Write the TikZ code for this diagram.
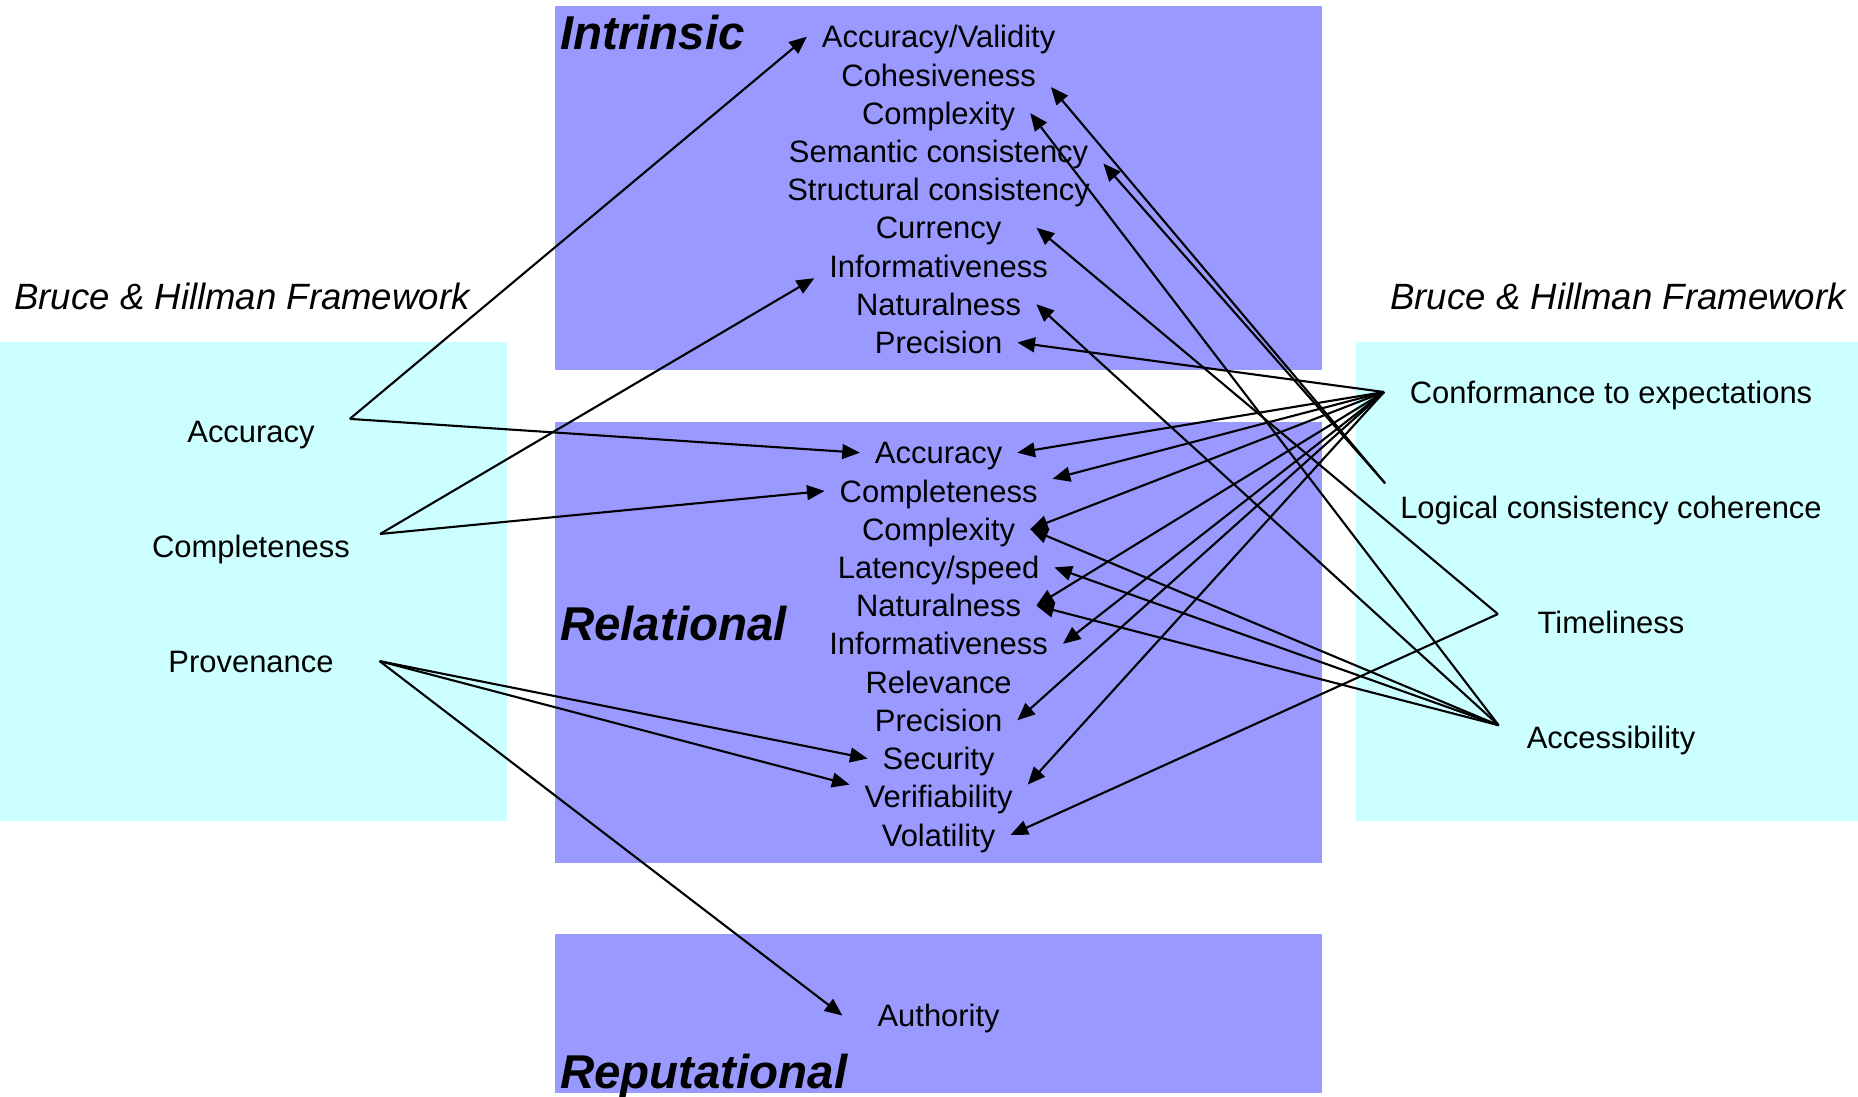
\documentclass[tikz,border=0pt]{standalone}
\usepackage{fontspec}
\setmainfont{Liberation Sans}
\usepackage{tikz}
\usetikzlibrary{arrows.meta}
\definecolor{dqblue}{RGB}{153,153,255}
\definecolor{bhcyan}{RGB}{204,255,255}
\tikzstyle{quality}   = [inner xsep=4pt,inner ysep=0pt,text height=6.3pt,text depth=0pt,font=\fontsize{8.8}{10.5}\selectfont]
\tikzstyle{category}  = [anchor=west,inner sep=0pt,text height=9.7pt,text depth=0pt,font=\fontsize{13.5}{16}\selectfont\bfseries\itshape]
\tikzstyle{framework} = [inner sep=0pt,text height=7.5pt,text depth=0pt,font=\fontsize{10.4}{12.5}\selectfont\itshape]

\begin{document}
\begin{tikzpicture}[x=0.01cm,y=-0.01cm,->,>={Triangle[length=5pt,width=4.2pt]},semithick,node distance=0.382cm]
\useasboundingbox (0,0) rectangle (1858,1096);

% panels
\fill[dqblue] (555,6)    rectangle (1322,370);
\fill[dqblue] (555,422)  rectangle (1322,863);
\fill[dqblue] (555,934)  rectangle (1322,1093);
\fill[bhcyan] (0,342)    rectangle (507,821);
\fill[bhcyan] (1356,342) rectangle (1858,821);

\node[category]  (tIntr) at (559,32)   {Intrinsic};
\node[category]  (tRel)  at (559,623)  {Relational};
\node[category]  (tRep)  at (559,1071) {Reputational};
\node[framework] (fwL)   at (242,296)  {Bruce \& Hillman Framework};
\node[framework] (fwR)   at (1618,296) {Bruce \& Hillman Framework};

% intrinsic
\node[quality] (iAcc)  at (938.6,36.7)  {Accuracy/Validity};
\node[quality] (iCoh)  [below of=iAcc]  {Cohesiveness};
\node[quality] (iCplx) [below of=iCoh]  {Complexity};
\node[quality] (iSem)  [below of=iCplx] {Semantic consistency};
\node[quality] (iStr)  [below of=iSem]  {Structural consistency};
\node[quality] (iCur)  [below of=iStr]  {Currency};
\node[quality] (iInf)  [below of=iCur]  {Informativeness};
\node[quality] (iNat)  [below of=iInf]  {Naturalness};
\node[quality] (iPrec) [below of=iNat]  {Precision};

% relational
\node[quality] (rAcc)  at (938.6,452.7) {Accuracy};
\node[quality] (rComp) [below of=rAcc]  {Completeness};
\node[quality] (rCplx) [below of=rComp] {Complexity};
\node[quality] (rLat)  [below of=rCplx] {Latency/speed};
\node[quality] (rNat)  [below of=rLat]  {Naturalness};
\node[quality] (rInf)  [below of=rNat]  {Informativeness};
\node[quality] (rRel)  [below of=rInf]  {Relevance};
\node[quality] (rPrec) [below of=rRel]  {Precision};
\node[quality] (rSec)  [below of=rPrec] {Security};
\node[quality] (rVer)  [below of=rSec]  {Verifiability};
\node[quality] (rVol)  [below of=rVer]  {Volatility};

% reputational
\node[quality] (pAuth) at (938.6,1015.5) {Authority};

% Bruce & Hillman
\node[quality] (bAcc)  at (251,431) {Accuracy};
\node[quality] (bComp) [below of=bAcc,node distance=1.15cm]  {Completeness};
\node[quality] (bProv) [below of=bComp,node distance=1.15cm] {Provenance};

\node[quality] (bConf) at (1611,392) {Conformance to expectations};
\node[quality] (bLog)  [below of=bConf,node distance=1.15cm] {Logical consistency coherence};
\node[quality] (bTime) [below of=bLog,node distance=1.15cm]  {Timeliness};
\node[quality] (bAccs) [below of=bTime,node distance=1.15cm] {Accessibility};

\coordinate (accOut)  at ([xshift=5.7pt]bAcc.north east);
\coordinate (compOut) at ([xshift=4.3pt]bComp.north east);
\coordinate (provOut) at ([xshift=8.8pt]bProv.east);
\coordinate (confOut) at ([xshift=-3pt]bConf.west);
\coordinate (logOut)  at ([yshift=3.3pt]bLog.north west);
\coordinate (timeOut) at ([shift={(-7pt,2.3pt)}]bTime.west);
\coordinate (accsOut) at ([shift={(-3.7pt,3.4pt)}]bAccs.west);

\path
    (accOut)  edge (iAcc.west)
              edge (rAcc.west)
    (compOut) edge (iInf.south west)
              edge (rComp.west)
    (provOut) edge (rSec.west)
              edge (rVer.north west)
              edge ([xshift=-5.7pt]pAuth.west)
    (confOut) edge (iPrec.east)
              edge (rAcc.east)
              edge (rComp.north east)
              edge (rCplx.east)
              edge (rNat.east)
              edge (rInf.east)
              edge (rPrec.east)
              edge (rVer.north east)
    (logOut)  edge (iCoh.south east)
              edge (iSem.south east)
    (timeOut) edge ([xshift=5.7pt]iCur.east)
              edge (rVol.east)
    (accsOut) edge (iCplx.east)
              edge (iNat.east)
              edge (rCplx.east)
              edge (rLat.east)
              edge (rNat.east);

\end{tikzpicture}
\end{document}
